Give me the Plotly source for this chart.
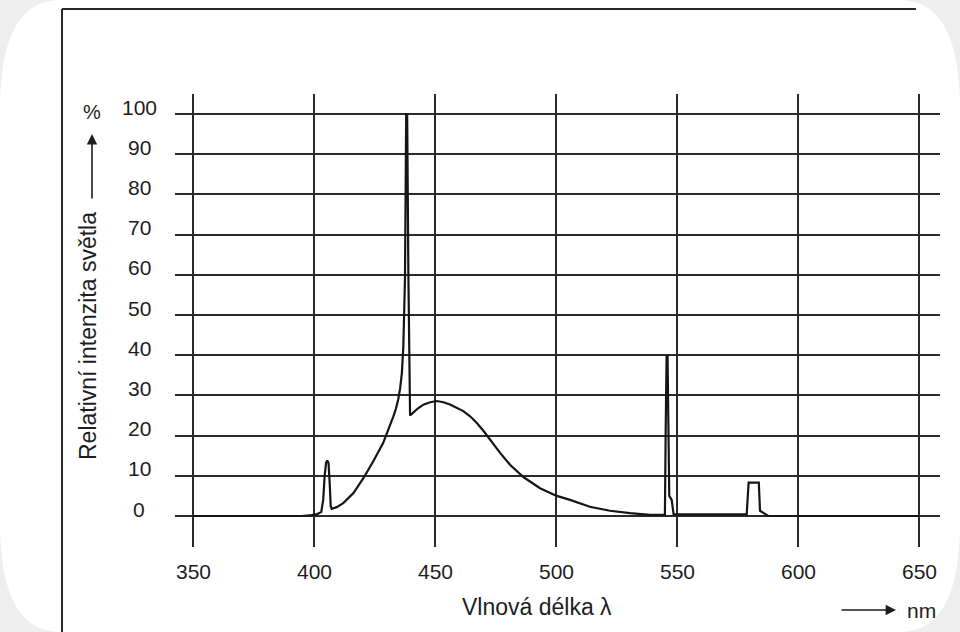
import plotly.graph_objects as go

# ---- data ----
wavelength_nm = [350, 395, 399, 401, 403, 403.8, 404.4, 405.0, 405.5, 406.0, 406.5, 406.9, 407.3,
                 409.4, 412.1, 416.3, 420.4, 424.5, 428.6, 431.4, 432.8, 433.8, 434.8, 435.6,
                 436.3, 436.9, 437.6, 438.1, 438.5, 439.0, 439.7, 441.0, 443.0, 445.2, 448.0,
                 450.7, 453.5, 456.2, 459.0, 461.7, 464.5, 467.2, 470.0, 472.7, 476.9, 481.0,
                 486.5, 493.4, 500.3, 505.8, 514.0, 522.3, 530.6, 538.8, 544.5, 545.0, 545.3,
                 545.7, 546.1, 546.8, 547.8, 548.3, 548.6, 560.0, 578.8, 579.6, 583.8, 584.3,
                 586.0, 587.7, 600, 650]
intensity_pct = [0, 0, 0.2, 0.4, 1.0, 4, 10, 13.3, 13.8, 13.2, 8, 2.5, 1.8,
                 2.2, 3.2, 5.7, 9.4, 13.6, 18.2, 22.3, 24.8, 26.6, 29.0, 31.8,
                 35.5, 42, 59, 100, 100, 60, 25, 25.7, 26.8, 27.7, 28.3,
                 28.6, 28.3, 27.75, 27.0, 26.1, 24.8, 23.2, 21.2, 19.0, 15.7, 12.75,
                 9.7, 6.9, 5.0, 4.0, 2.3, 1.3, 0.7, 0.3, 0.2, 0.3, 20,
                 39.8, 39.8, 5, 4, 1, 0.4, 0.4, 0.4, 8.3, 8.3, 1.3,
                 0.6, 0, 0, 0]

x_ticks = [350, 400, 450, 500, 550, 600, 650]
x_tick_labels = ["350", "400", "450", "500", "550", "600", "650"]
y_ticks = [0, 10, 20, 30, 40, 50, 60, 70, 80, 90, 100]
y_tick_labels = ["0", "10", "20", "30", "40", "50", "60", "70", "80", "90", "100"]

x_title = "Vlnová délka λ"
x_unit = "nm"
y_title = "Relativní intenzita světla"
y_unit = "%"

# ---- layout geometry ----
W, H = 960, 632
L, R, T, B = 175, 20, 94, 85
PW, PH = W - L - R, H - T - B


def px(xp):
    return (xp - L) / PW


def py(yp):
    return (H - B - yp) / PH


FONT = "Arial, Liberation Sans, Helvetica, sans-serif"
INK = "#1e1e1e"

fig = go.Figure()
fig.add_trace(go.Scatter(x=wavelength_nm, y=intensity_pct, mode="lines",
                         line=dict(color="#151515", width=2.2), hoverinfo="skip",
                         showlegend=False))

annotations = []
for v, t in zip(x_ticks, x_tick_labels):
    annotations.append(dict(x=v, xref="x", y=py(571), yref="paper", text=t, showarrow=False,
                            xanchor="center", yanchor="middle",
                            font=dict(family=FONT, size=21, color=INK)))
for v, t in zip(y_ticks, y_tick_labels):
    annotations.append(dict(x=px(139), xref="paper", y=v, yref="y", text=t, showarrow=False,
                            xanchor="center", yanchor="middle", yshift=7,
                            font=dict(family=FONT, size=21, color=INK)))

# axis titles
annotations.append(dict(x=px(537), y=py(607), xref="paper", yref="paper", text=x_title,
                        showarrow=False, xanchor="center", yanchor="middle",
                        font=dict(family=FONT, size=23, color=INK)))
annotations.append(dict(x=px(921), y=py(610), xref="paper", yref="paper", text=x_unit,
                        showarrow=False, xanchor="center", yanchor="middle",
                        font=dict(family=FONT, size=21, color=INK)))
annotations.append(dict(x=px(896), y=py(610), xref="paper", yref="paper", ax=-56, ay=0,
                        text="", showarrow=True, arrowhead=2, arrowsize=1.3,
                        arrowwidth=1.6, arrowcolor=INK))
annotations.append(dict(x=px(88), y=py(336), xref="paper", yref="paper", text=y_title,
                        textangle=-90, showarrow=False, xanchor="center", yanchor="middle",
                        font=dict(family=FONT, size=23, color=INK)))
annotations.append(dict(x=px(92), y=py(134), xref="paper", yref="paper", ax=0, ay=66,
                        text="", showarrow=True, arrowhead=2, arrowsize=1.3,
                        arrowwidth=1.6, arrowcolor=INK))
annotations.append(dict(x=px(92), y=py(112), xref="paper", yref="paper", text=y_unit,
                        showarrow=False, xanchor="center", yanchor="middle",
                        font=dict(family=FONT, size=20, color=INK)))

# rounded scanned page + frame lines
rx, ry = 60, 110
p = lambda a, b: f"{px(a):.5f},{py(b):.5f}"
page_path = (f"M {p(rx,0)} L {p(W-rx,0)} Q {p(W,0)} {p(W,ry)} L {p(W,H-ry)} "
             f"Q {p(W,H)} {p(W-rx,H)} L {p(rx,H)} Q {p(0,H)} {p(0,H-ry)} "
             f"L {p(0,ry)} Q {p(0,0)} {p(rx,0)} Z")
shapes = [
    dict(type="path", path=page_path, xref="paper", yref="paper", fillcolor="#ffffff",
         line=dict(width=0), layer="below"),
    dict(type="line", xref="paper", yref="paper", x0=px(62), x1=px(916), y0=py(9), y1=py(9),
         line=dict(color="#2a2a2a", width=2)),
    dict(type="line", xref="paper", yref="paper", x0=px(62), x1=px(62), y0=py(9), y1=py(H),
         line=dict(color="#2a2a2a", width=2)),
]

x0 = 400 + (L - 314) / 2.42
x1 = 400 + (W - R - 314) / 2.42
y1 = (516 - T) / 4.02
y0 = (516 - (H - B)) / 4.02

fig.update_layout(
    width=W, height=H,
    margin=dict(l=L, r=R, t=T, b=B, pad=0),
    paper_bgcolor="#eeeeee",
    plot_bgcolor="rgba(0,0,0,0)",
    showlegend=False,
    annotations=annotations,
    shapes=shapes,
    xaxis=dict(range=[x0, x1], tickvals=x_ticks, showticklabels=False, showgrid=True,
               gridcolor="#2a2a2a", gridwidth=1.6, zeroline=False, showline=False, ticks=""),
    yaxis=dict(range=[y0, y1], tickvals=y_ticks, showticklabels=False, showgrid=True,
               gridcolor="#2a2a2a", gridwidth=1.6, zeroline=False, showline=False, ticks=""),
)

fig.write_html("out.html", config={"displayModeBar": False},
               post_script="document.body.style.margin='0';")
